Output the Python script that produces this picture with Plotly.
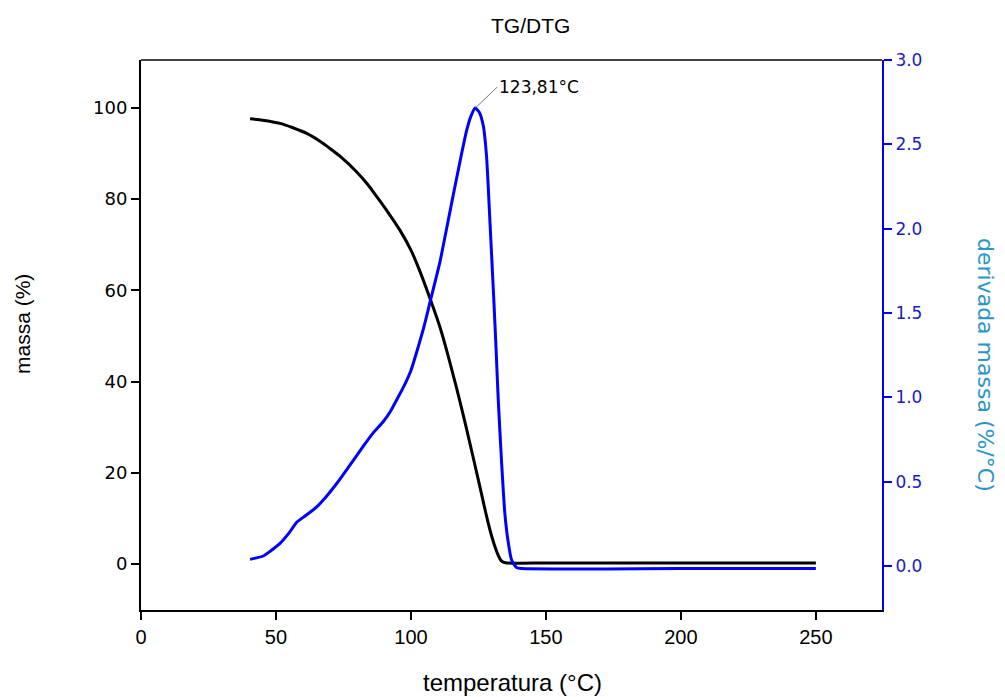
import plotly.graph_objects as go

# TG curve (mass %, left axis)
tg_temp = [40.4, 45, 51.5, 56, 61.4, 67, 70, 73.7, 80, 84, 87, 91.5, 95.9, 100, 103.3, 107, 110.7, 113.2,
           115.7, 118, 120.6, 122.8, 124.9, 126.8, 128.6, 130, 131.1, 132.4, 133.6, 135, 150, 200, 250]
tg_mass = [97.6, 97.3, 96.6, 95.7, 94.4, 92.4, 91.1, 89.4, 85.9, 83.2, 80.8, 77.1, 73.2, 68.8, 64.2, 58.3, 52.0, 46.9,
           41.3, 36.0, 29.6, 24.0, 18.6, 13.6, 9.0, 5.9, 3.8, 1.8, 0.6, 0.25, 0.2, 0.2, 0.2]

# DTG curve (derivative %/°C, right axis)
dtg_temp = [40.4, 45.3, 48, 51.5, 55, 57.7, 61, 65, 68.5, 72.5, 77, 82.3, 86, 89.7, 92.5, 94.7, 97.5,
            100, 102.7, 105, 107, 110.7, 113.2, 116.3, 118.7, 120.6, 122.3, 123.81, 125.3, 126.8,
            128, 129.3, 130.7, 131.5, 132.3, 133.6, 134.8, 136.1, 137.3, 139.1, 141, 200, 250]
dtg_val = [0.04, 0.06, 0.09, 0.135, 0.2, 0.26, 0.3, 0.35, 0.41, 0.49, 0.59, 0.71, 0.79, 0.856, 0.92, 0.985, 1.07,
           1.16, 1.30, 1.43, 1.56, 1.80, 2.0, 2.25, 2.44, 2.58, 2.67, 2.715, 2.69, 2.61,
           2.43, 2.03, 1.578, 1.30, 1.0, 0.61, 0.31, 0.135, 0.036, -0.008, -0.014, -0.014, -0.014]

peak_temp = 123.81
peak_val = 2.715
peak_label = "123,81°C"

x_ticks = [0, 50, 100, 150, 200, 250]
left_ticks = [0, 20, 40, 60, 80, 100]
right_ticks = [0.0, 0.5, 1.0, 1.5, 2.0, 2.5, 3.0]

ARIAL = "Liberation Sans, Arial, sans-serif"
NARROW = "Liberation Sans Narrow, Arial Narrow, Liberation Sans, sans-serif"
WIDE = "DejaVu Sans, Verdana, sans-serif"

fig = go.Figure()
fig.add_trace(go.Scatter(x=tg_temp, y=tg_mass, mode="lines", line=dict(color="black", width=3),
                         line_shape="spline", line_smoothing=0.6, showlegend=False, yaxis="y"))
fig.add_trace(go.Scatter(x=dtg_temp, y=dtg_val, mode="lines", line=dict(color="#0000ff", width=3),
                         line_shape="spline", line_smoothing=0.6, showlegend=False, yaxis="y2"))

fig.add_annotation(x=peak_temp, y=peak_val, xref="x", yref="y2", text=peak_label,
                   showarrow=True, arrowhead=0, arrowwidth=0.8, arrowcolor="#555555",
                   ax=22, ay=-21, xanchor="left", yanchor="middle",
                   font=dict(family=WIDE, size=17, color="black"))

# titles as annotations (paper coords relative to plot area)
fig.add_annotation(x=0.525, y=1.0636, xref="paper", yref="paper", text="TG/DTG", showarrow=False,
                   xanchor="center", yanchor="middle", font=dict(family=ARIAL, size=21, color="black"))
fig.add_annotation(x=0.5007, y=-0.131, xref="paper", yref="paper", text="temperatura (°C)", showarrow=False,
                   xanchor="center", yanchor="middle", font=dict(family=ARIAL, size=24, color="black"))
fig.add_annotation(x=-0.1606, y=0.52, xref="paper", yref="paper", text="massa (%)", showarrow=False,
                   textangle=-90, xanchor="center", yanchor="middle",
                   font=dict(family=ARIAL, size=21, color="black"))
fig.add_annotation(x=1.139, y=0.4455, xref="paper", yref="paper", text="derivada massa (%/°C)",
                   showarrow=False, textangle=90, xanchor="center", yanchor="middle",
                   font=dict(family=WIDE, size=22, color="#2b95c8"))

# top border
fig.add_shape(type="line", xref="paper", yref="paper", x0=0, x1=1, y0=1, y1=1,
              line=dict(color="#444444", width=2))

fig.update_layout(
    width=1005, height=697,
    margin=dict(l=141, r=123, t=60, b=87),
    paper_bgcolor="white", plot_bgcolor="white",
    font=dict(family=ARIAL, size=17, color="black"),
    xaxis=dict(range=[0, 274.5], tickvals=x_ticks, ticks="outside", ticklen=8, tickwidth=1.5,
               tickcolor="black", showline=True, linecolor="black", linewidth=2, showgrid=False,
               zeroline=False, tickfont=dict(family=NARROW, size=20)),
    yaxis=dict(range=[-10.1, 110.5], tickvals=left_ticks, ticks="outside", ticklen=8, tickwidth=1.5,
               tickcolor="black", showline=True, linecolor="black", linewidth=2, showgrid=False,
               zeroline=False, tickfont=dict(family=WIDE, size=18)),
    yaxis2=dict(range=[-0.26, 3.0], tickvals=right_ticks, tickformat=".1f", overlaying="y", side="right",
                anchor="x", ticks="outside", ticklen=8, tickwidth=1.5, tickcolor="#0000ff",
                showline=True, linecolor="#0000ff", linewidth=2, showgrid=False, zeroline=False,
                tickfont=dict(family=WIDE, size=17, color="#1a1acc")),
)

fig.write_html("out.html")
